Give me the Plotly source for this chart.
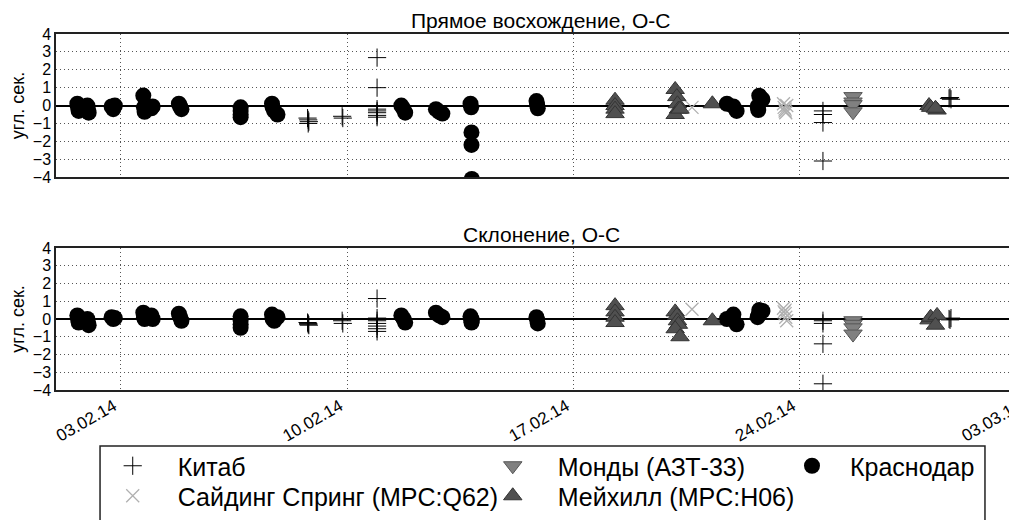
import pandas as pd
import plotly.graph_objects as go

# ---------------- data (day = fractional day of February 2014) ----------------
kitab_day = [8.78, 8.8, 8.82, 8.8, 9.85, 9.87,
             10.93, 10.93, 10.93, 10.93, 10.93, 10.93, 10.93,
             24.72, 24.72, 24.72, 24.72, 28.62, 28.65, 28.68]
kitab_ra = [-0.7, -0.8, -0.9, -1.0, -0.6, -0.7,
            2.68, 1.0, -0.2, -0.3, -0.4, -0.55, -0.65,
            -0.3, -0.5, -0.95, -3.1, 0.4, 0.45, 0.35]
kitab_dec = [-0.2, -0.3, -0.35, -0.25, -0.1, -0.25,
             1.15, 0.05, -0.1, -0.25, -0.4, -0.55, -0.7,
             -0.1, -0.25, -1.4, -3.65, 0.0, -0.05, 0.05]

siding_day = [20.67, 23.5, 23.52, 23.55, 23.57, 23.6, 23.55]
siding_ra = [-0.1, 0.1, -0.1, -0.3, -0.4, 0.0, -0.2]
siding_dec = [0.55, 0.6, 0.4, 0.3, 0.1, -0.1, 0.5]

mondy_day = [25.65, 25.65, 25.65, 25.65]
mondy_ra = [0.5, 0.2, 0.05, -0.35]
mondy_dec = [-0.1, -0.3, -0.5, -0.85]

mayhill_day = [18.29, 18.29, 18.29, 18.29,
               20.15, 20.2, 20.22, 20.25, 20.15, 20.3,
               21.3, 28.0, 28.05, 28.25, 28.2]
mayhill_ra = [0.3, 0.0, -0.2, -0.45,
              0.9, 0.5, 0.1, -0.2, -0.5, -0.2,
              0.1, 0.0, -0.1, -0.25, -0.15]
mayhill_dec = [0.75, 0.4, 0.1, -0.2,
               0.4, 0.2, -0.1, -0.3, -0.55, -1.0,
               -0.1, -0.05, 0.1, 0.2, -0.35]

krasnodar_day = [1.66, 1.68, 1.7, 1.97, 1.99, 2.01,
                 2.72, 2.77, 2.82, 3.7, 3.72, 3.74, 3.95, 3.99,
                 4.8, 4.84, 4.88, 6.71, 6.71, 6.71, 6.71,
                 7.68, 7.7, 7.75, 7.85, 11.68, 11.75, 11.8,
                 12.75, 12.85, 12.95, 13.82, 13.84, 13.85, 13.85, 13.86,
                 15.86, 15.88, 15.9, 21.75, 21.95, 22.05,
                 22.7, 22.72, 22.75, 22.85]
krasnodar_ra = [0.1, -0.1, -0.3, 0.0, -0.2, -0.4,
                -0.05, -0.2, 0.0, 0.56, -0.1, -0.35, -0.15, -0.05,
                0.1, -0.05, -0.2, -0.1, -0.3, -0.5, -0.65,
                0.1, -0.1, -0.3, -0.5, 0.0, -0.2, -0.4,
                -0.2, -0.35, -0.45, 0.1, -0.1, -1.5, -2.2, -4.1,
                0.25, 0.05, -0.15, 0.1, -0.05, -0.3,
                -0.05, -0.25, 0.55, 0.35]
krasnodar_dec = [0.2, 0.0, -0.2, 0.0, -0.2, -0.35,
                 0.1, 0.0, 0.05, 0.35, 0.1, 0.0, 0.2, 0.0,
                 0.3, 0.1, -0.1, 0.15, -0.1, -0.3, -0.5,
                 0.25, 0.0, -0.1, 0.1, 0.2, 0.0, -0.2,
                 0.35, 0.2, 0.1, 0.15, -0.05, -0.2, 0.0, -0.1,
                 0.1, -0.05, -0.25, 0.0, 0.25, -0.3,
                 0.1, 0.2, 0.5, 0.45]

tick_dates = ["2014-02-03", "2014-02-10", "2014-02-17", "2014-02-24", "2014-03-03"]
tick_labels = ["03.02.14", "10.02.14", "17.02.14", "24.02.14", "03.03.14"]
x_start = "2014-02-01"
x_end = "2014-03-03"

titles = ["Прямое восхождение, O-C", "Склонение, O-C"]
ylabel = "угл. сек."

BASE = pd.Timestamp("2014-02-01")


def to_dt(days):
    return [BASE + pd.Timedelta(days=d - 1) for d in days]


FONT = "Liberation Sans, Arial, sans-serif"
LEG_FONT = dict(family=FONT, size=25, color="black")

series = [
    # name, days, ra, dec, marker, legend id
    ("Китаб", kitab_day, kitab_ra, kitab_dec,
     dict(symbol="cross-thin", size=13, color="black",
          line=dict(color="black", width=1)), "legend"),
    ("Сайдинг Спринг (MPC:Q62)", siding_day, siding_ra, siding_dec,
     dict(symbol="x-thin", size=13, color="#b0b0b0",
          line=dict(color="#b0b0b0", width=1.3)), "legend2"),
    ("Монды (АЗТ-33)", mondy_day, mondy_ra, mondy_dec,
     dict(symbol="triangle-down", size=16, color="#808080",
          line=dict(color="#555555", width=1)), "legend3"),
    ("Мейхилл (MPC:H06)", mayhill_day, mayhill_ra, mayhill_dec,
     dict(symbol="triangle-up", size=16, color="#505050",
          line=dict(color="#333333", width=1)), "legend4"),
    ("Краснодар", krasnodar_day, krasnodar_ra, krasnodar_dec,
     dict(symbol="circle", size=16, color="black",
          line=dict(color="black", width=0)), "legend5"),
]

fig = go.Figure()
for name, days, ra, dec, marker, leg in series:
    xs = to_dt(days)
    fig.add_trace(go.Scatter(x=xs, y=ra, mode="markers", name=name, marker=marker,
                             xaxis="x", yaxis="y", legend=leg, legendgroup=name,
                             showlegend=True, cliponaxis=True))
    fig.add_trace(go.Scatter(x=xs, y=dec, mode="markers", name=name, marker=marker,
                             xaxis="x2", yaxis="y2", legend=leg, legendgroup=name,
                             showlegend=False, cliponaxis=True))

GRID = "#555555"
xcommon = dict(
    type="date", range=[x_start, x_end], automargin=False,
    tickmode="array", tickvals=tick_dates, ticktext=tick_labels,
    showgrid=True, gridcolor=GRID, griddash="1px,3px", gridwidth=1,
    showline=True, linecolor="#222222", linewidth=1.5, mirror=True,
    zeroline=False, ticks="",
)
ycommon = dict(
    range=[-4, 4], tickmode="linear", tick0=0, dtick=1, automargin=False,
    showgrid=True, gridcolor=GRID, griddash="1px,3px", gridwidth=1,
    showline=True, linecolor="#222222", linewidth=1.5, mirror=False,
    zeroline=True, zerolinecolor="black", zerolinewidth=1.5,
    ticks="", tickfont=dict(family=FONT, size=16, color="black"),
    title=dict(text=ylabel, font=dict(family=FONT, size=18, color="black"), standoff=4),
)

top_dom = [0.598, 1.0]
bot_dom = [0.0, 0.399]

# legend layout: (x paper, y paper, item width) for each single-entry legend
leg_pos = {
    "legend": (0.0327, -0.2135, 80),
    "legend2": (0.0327, -0.2978, 80),
    "legend3": (0.4245, -0.2135, 80),
    "legend4": (0.4245, -0.2978, 80),
    "legend5": (0.7402, -0.2135, 66),
}
legends = {}
for key, (lx, ly, iw) in leg_pos.items():
    legends[key] = dict(x=lx, y=ly, xanchor="left", yanchor="middle",
                        orientation="v", itemwidth=iw, bgcolor="rgba(0,0,0,0)",
                        borderwidth=0, font=LEG_FONT, tracegroupgap=0)

fig.update_layout(
    width=1030, height=512,
    margin=dict(l=48, r=12, t=26, b=130, autoexpand=False),
    paper_bgcolor="white", plot_bgcolor="white",
    font=dict(family=FONT, color="black"),
    xaxis=dict(xcommon, anchor="y", showticklabels=False),
    xaxis2=dict(xcommon, anchor="y2", matches="x", showticklabels=True,
                tickangle=-30, ticklabelshift=-7, ticklabelstandoff=-2,
                tickfont=dict(family=FONT, size=17, color="black")),
    yaxis=dict(ycommon, domain=top_dom, anchor="x"),
    yaxis2=dict(ycommon, domain=bot_dom, anchor="x2"),
    showlegend=True,
    **legends,
)

# subplot titles
for text, dom in ((titles[0], top_dom), (titles[1], bot_dom)):
    fig.add_annotation(text=text, xref="paper", yref="paper", x=0.5, y=dom[1],
                       xanchor="center", yanchor="bottom", showarrow=False, yshift=0,
                       font=dict(family=FONT, size=21, color="black"))

# legend frame
fig.add_shape(type="rect", xref="paper", yref="paper",
              x0=0.0454, x1=0.9577, y0=-0.1573, y1=-0.42,
              line=dict(color="#222222", width=1.5), fillcolor="rgba(0,0,0,0)", layer="below")

fig.write_html("out.html")
